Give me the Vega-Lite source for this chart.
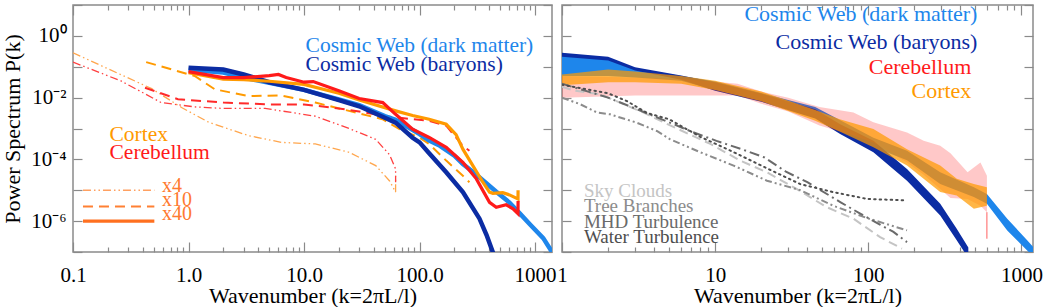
{
"$schema": "https://vega.github.io/schema/vega-lite/v6.json",
"padding": {"left": 0, "top": 2, "right": 0, "bottom": 0},
"spacing": 10,
"bounds": "flush",
"config": {
 "font": "Liberation Serif",
 "view": {"stroke": "#8a8a8a", "strokeWidth": 1.5},
 "axis": {"labelFont": "Liberation Serif", "titleFont": "Liberation Serif", "labelFontSize": 21, "titleFontSize": 22, "titleFontWeight": "normal", "labelColor": "#000", "titleColor": "#000", "grid": false, "domain": false, "tickColor": "#8a8a8a", "tickWidth": 1.2, "labelOverlap": false, "labelFlush": false, "labelBound": false, "minExtent": 0},
 "axisX": {"minExtent": 0},
 "axisY": {"minExtent": 0},
 "text": {"font": "Liberation Serif"}
},
"datasets": {
 "L": [
  {"s":"dm","k":1,"P":0.0794},{"s":"dm","k":2,"P":0.0646},{"s":"dm","k":3,"P":0.0447},{"s":"dm","k":5,"P":0.0302},{"s":"dm","k":10,"P":0.0178},{"s":"dm","k":20,"P":0.00871},{"s":"dm","k":30,"P":0.00575},{"s":"dm","k":50,"P":0.00251},{"s":"dm","k":62,"P":0.00191},{"s":"dm","k":100,"P":0.000661},{"s":"dm","k":121,"P":0.000407},{"s":"dm","k":150,"P":0.000275},{"s":"dm","k":200,"P":0.000132},{"s":"dm","k":237,"P":0.0000708},{"s":"dm","k":300,"P":0.0000355},{"s":"dm","k":461,"P":0.00000891},{"s":"dm","k":600,"P":0.00000398},{"s":"dm","k":736,"P":0.00000178},{"s":"dm","k":900,"P":0.000000794},{"s":"dm","k":1175,"P":0.000000282},{"s":"dm","k":1400,"P":0.0000001},
  {"s":"bar","k":1,"P":0.0933},{"s":"bar","k":2,"P":0.0813},{"s":"bar","k":3,"P":0.0562},{"s":"bar","k":5,"P":0.0316},{"s":"bar","k":10,"P":0.0178},{"s":"bar","k":20,"P":0.00832},{"s":"bar","k":30,"P":0.00525},{"s":"bar","k":50,"P":0.00224},{"s":"bar","k":62,"P":0.00155},{"s":"bar","k":87,"P":0.000501},{"s":"bar","k":100,"P":0.000355},{"s":"bar","k":121,"P":0.000158},{"s":"bar","k":170,"P":0.000038},{"s":"bar","k":237,"P":0.0000087},{"s":"bar","k":330,"P":0.0000012},{"s":"bar","k":380,"P":0.000000355},{"s":"bar","k":430,"P":0.0000001},{"s":"bar","k":460,"P":0.00000005},
  {"s":"cx","k":1,"P":0.0646},{"s":"cx","k":2,"P":0.0398},{"s":"cx","k":3,"P":0.038},{"s":"cx","k":5,"P":0.0339},{"s":"cx","k":10,"P":0.0269},{"s":"cx","k":20,"P":0.0138},{"s":"cx","k":30,"P":0.00832},{"s":"cx","k":62,"P":0.00372},{"s":"cx","k":87,"P":0.00263},{"s":"cx","k":121,"P":0.002},{"s":"cx","k":170,"P":0.00138},{"s":"cx","k":207,"P":0.000631},{"s":"cx","k":237,"P":0.000214},{"s":"cx","k":289,"P":0.0000631},{"s":"cx","k":353,"P":0.0000182},{"s":"cx","k":403,"P":0.0000087},{"s":"cx","k":431,"P":0.00000794},{"s":"cx","k":525,"P":0.00000832},{"s":"cx","k":600,"P":0.00000708},{"s":"cx","k":711,"P":0.00000525},{"s":"cx","k":712,"P":0.00001},
  {"s":"cb","k":1,"P":0.0692},{"s":"cb","k":2,"P":0.0447},{"s":"cb","k":3,"P":0.0447},{"s":"cb","k":5,"P":0.0513},{"s":"cb","k":6,"P":0.0562},{"s":"cb","k":7,"P":0.0447},{"s":"cb","k":10,"P":0.0316},{"s":"cb","k":12,"P":0.0331},{"s":"cb","k":20,"P":0.0166},{"s":"cb","k":30,"P":0.00933},{"s":"cb","k":48,"P":0.00692},{"s":"cb","k":62,"P":0.00288},{"s":"cb","k":87,"P":0.000955},{"s":"cb","k":121,"P":0.000513},{"s":"cb","k":170,"P":0.000245},{"s":"cb","k":237,"P":0.0000794},{"s":"cb","k":310,"P":0.0000234},{"s":"cb","k":403,"P":0.00000407},{"s":"cb","k":461,"P":0.00000282},{"s":"cb","k":562,"P":0.00000339},{"s":"cb","k":644,"P":0.00000251},{"s":"cb","k":711,"P":0.00000174},{"s":"cb","k":712,"P":0.00000447},
  {"s":"cx10","k":0.43,"P":0.141},{"s":"cx10","k":1.13,"P":0.0501},{"s":"cx10","k":1.69,"P":0.0186},{"s":"cx10","k":3.3,"P":0.0112},{"s":"cx10","k":6.4,"P":0.0117},{"s":"cx10","k":12.5,"P":0.00692},{"s":"cx10","k":24.5,"P":0.00372},{"s":"cx10","k":47.7,"P":0.002},{"s":"cx10","k":67,"P":0.000955},{"s":"cx10","k":100,"P":0.000501},{"s":"cx10","k":121,"P":0.000316},{"s":"cx10","k":170,"P":0.0000912},{"s":"cx10","k":237,"P":0.0000295},{"s":"cx10","k":270,"P":0.0000182},
  {"s":"cb10","k":0.42,"P":0.0209},{"s":"cb10","k":0.81,"P":0.00891},{"s":"cb10","k":2,"P":0.00692},{"s":"cb10","k":5,"P":0.00603},{"s":"cb10","k":10,"P":0.00603},{"s":"cb10","k":20,"P":0.00447},{"s":"cb10","k":30,"P":0.00355},{"s":"cb10","k":50,"P":0.00251},{"s":"cb10","k":87,"P":0.002},{"s":"cb10","k":121,"P":0.00178},{"s":"cb10","k":170,"P":0.00123},{"s":"cb10","k":237,"P":0.000275},{"s":"cb10","k":270,"P":0.00019},
  {"s":"cx4","k":0.1,"P":0.282},{"s":"cx4","k":0.48,"P":0.0195},{"s":"cx4","k":0.87,"P":0.00479},{"s":"cx4","k":1.5,"P":0.00158},{"s":"cx4","k":3.3,"P":0.000589},{"s":"cx4","k":6.4,"P":0.000355},{"s":"cx4","k":12.5,"P":0.000316},{"s":"cx4","k":24.5,"P":0.00017},{"s":"cx4","k":41.7,"P":0.000063},{"s":"cx4","k":55,"P":0.00002},{"s":"cx4","k":62,"P":0.0000087},{"s":"cx4","k":62.01,"P":0.0000295},
  {"s":"cb4","k":0.1,"P":0.141},{"s":"cb4","k":0.26,"P":0.0347},{"s":"cb4","k":0.58,"P":0.00692},{"s":"cb4","k":1.13,"P":0.00501},{"s":"cb4","k":2,"P":0.00447},{"s":"cb4","k":4.6,"P":0.00447},{"s":"cb4","k":12.5,"P":0.00251},{"s":"cb4","k":24.5,"P":0.001},{"s":"cb4","k":41.7,"P":0.000447},{"s":"cb4","k":55,"P":0.000141},{"s":"cb4","k":62,"P":0.000049},{"s":"cb4","k":62.01,"P":0.0000182},
  {"s":"leg4","k":0.122,"P":0.00001},{"s":"leg4","k":0.506,"P":0.00001},
  {"s":"leg10","k":0.122,"P":0.000003},{"s":"leg10","k":0.506,"P":0.000003},
  {"s":"leg40","k":0.122,"P":0.000001},{"s":"leg40","k":0.506,"P":0.000001}
 ],
 "LT": [
  {"t":"Cosmic Web (dark matter)","k":10.3,"P":0.298,"c":"dm"},
  {"t":"Cosmic Web (baryons)","k":10.3,"P":0.0724,"c":"bar"},
  {"t":"Cortex","k":0.207,"P":0.0004,"c":"cx"},
  {"t":"Cerebellum","k":0.207,"P":0.000102,"c":"cb"}
 ],
 "LL": [
  {"t":"x4","k":0.59,"P":0.0000086,"c":"leg"},
  {"t":"x10","k":0.59,"P":0.0000032,"c":"leg"},
  {"t":"x40","k":0.59,"P":0.00000105,"c":"leg"}
 ],
 "B": [
  {"s":"dm","k":1,"lo":0.0501,"hi":0.251},{"s":"dm","k":2,"lo":0.0501,"hi":0.191},{"s":"dm","k":3,"lo":0.0447,"hi":0.0891},{"s":"dm","k":6,"lo":0.0355,"hi":0.0501},{"s":"dm","k":10,"lo":0.0178,"hi":0.0331},{"s":"dm","k":20,"lo":0.00794,"hi":0.0141},{"s":"dm","k":45,"lo":0.00251,"hi":0.00501},{"s":"dm","k":108,"lo":0.000251,"hi":0.000501},{"s":"dm","k":179,"lo":0.0000933,"hi":0.000191},{"s":"dm","k":295,"lo":0.0000158,"hi":0.000038},{"s":"dm","k":489,"lo":0.00000603,"hi":0.0000126},{"s":"dm","k":595,"lo":0.00000363,"hi":0.00000759},{"s":"dm","k":808,"lo":0.000000501,"hi":0.0000012},{"s":"dm","k":1090,"lo":0.000000112,"hi":0.00000024},{"s":"dm","k":1200,"lo":0.0000000708,"hi":0.000000141},
  {"s":"bar","k":1,"lo":0.209,"hi":0.282},{"s":"bar","k":2,"lo":0.158,"hi":0.209},{"s":"bar","k":3,"lo":0.0759,"hi":0.0955},{"s":"bar","k":6,"lo":0.038,"hi":0.0525},{"s":"bar","k":10,"lo":0.0166,"hi":0.0316},{"s":"bar","k":20,"lo":0.00741,"hi":0.0135},{"s":"bar","k":45,"lo":0.00209,"hi":0.00417},{"s":"bar","k":65.5,"lo":0.000661,"hi":0.00138},{"s":"bar","k":108,"lo":0.00017,"hi":0.000398},{"s":"bar","k":179,"lo":0.0000204,"hi":0.000049},{"s":"bar","k":295,"lo":0.00000151,"hi":0.00000363},{"s":"bar","k":378,"lo":0.00000024,"hi":0.000000562},{"s":"bar","k":450,"lo":0.0000000631,"hi":0.000000141},
  {"s":"cb","k":1,"lo":0.01,"hi":0.0501},{"s":"cb","k":3,"lo":0.0117,"hi":0.0447},{"s":"cb","k":6,"lo":0.0117,"hi":0.0407},{"s":"cb","k":14,"lo":0.0117,"hi":0.0282},{"s":"cb","k":20,"lo":0.00631,"hi":0.0158},{"s":"cb","k":30,"lo":0.00355,"hi":0.01},{"s":"cb","k":48,"lo":0.00126,"hi":0.00501},{"s":"cb","k":80,"lo":0.000589,"hi":0.00331},{"s":"cb","k":108,"lo":0.000355,"hi":0.00158},{"s":"cb","k":179,"lo":0.0000794,"hi":0.000741},{"s":"cb","k":230,"lo":0.0000316,"hi":0.000398},{"s":"cb","k":295,"lo":0.000011,"hi":0.000275},{"s":"cb","k":344,"lo":0.00000562,"hi":0.000158},{"s":"cb","k":445,"lo":0.00000525,"hi":0.000038},{"s":"cb","k":540,"lo":0.00000316,"hi":0.0000794},{"s":"cb","k":595,"lo":0.00000195,"hi":0.0000295},
  {"s":"cx","k":1,"lo":0.0251,"hi":0.0562},{"s":"cx","k":2,"lo":0.0316,"hi":0.0813},{"s":"cx","k":3,"lo":0.0316,"hi":0.0708},{"s":"cx","k":6,"lo":0.0282,"hi":0.0501},{"s":"cx","k":10,"lo":0.0178,"hi":0.0355},{"s":"cx","k":20,"lo":0.00759,"hi":0.0158},{"s":"cx","k":45,"lo":0.00178,"hi":0.00398},{"s":"cx","k":65,"lo":0.000794,"hi":0.002},{"s":"cx","k":108,"lo":0.000245,"hi":0.000955},{"s":"cx","k":179,"lo":0.0000631,"hi":0.000214},{"s":"cx","k":295,"lo":0.0000087,"hi":0.0000631},{"s":"cx","k":378,"lo":0.00000676,"hi":0.0000234},{"s":"cx","k":489,"lo":0.00000251,"hi":0.0000158},{"s":"cx","k":595,"lo":0.00000316,"hi":0.0000126}
 ],
 "RR": [{"k":595,"lo":0.000000269,"hi":0.00000195}],
 "G": [
  {"s":"water","k":1,"P":0.0263},{"s":"water","k":2,"P":0.0138},{"s":"water","k":2.65,"P":0.00776},{"s":"water","k":3.6,"P":0.00316},{"s":"water","k":5,"P":0.002},{"s":"water","k":8,"P":0.000537},{"s":"water","k":13,"P":0.000178},{"s":"water","k":22,"P":0.0000501},{"s":"water","k":36,"P":0.0000158},{"s":"water","k":59,"P":0.0000087},{"s":"water","k":98,"P":0.00000525},{"s":"water","k":179,"P":0.00000468},
  {"s":"mhd","k":1,"P":0.0282},{"s":"mhd","k":2,"P":0.01},{"s":"mhd","k":4,"P":0.00251},{"s":"mhd","k":7,"P":0.000794},{"s":"mhd","k":10.2,"P":0.000398},{"s":"mhd","k":14.9,"P":0.000214},{"s":"mhd","k":21,"P":0.000115},{"s":"mhd","k":29,"P":0.0000398},{"s":"mhd","k":40,"P":0.0000182},{"s":"mhd","k":66,"P":0.00000407},{"s":"mhd","k":88,"P":0.00000178},{"s":"mhd","k":120,"P":0.000000759},{"s":"mhd","k":146,"P":0.000000447},{"s":"mhd","k":179,"P":0.000000209},
  {"s":"tree","k":1,"P":0.01},{"s":"tree","k":1.31,"P":0.00617},{"s":"tree","k":1.69,"P":0.00331},{"s":"tree","k":2.06,"P":0.00288},{"s":"tree","k":3.07,"P":0.00155},{"s":"tree","k":4.16,"P":0.000832},{"s":"tree","k":5.08,"P":0.000447},{"s":"tree","k":8,"P":0.00017},{"s":"tree","k":13.2,"P":0.0000631},{"s":"tree","k":21.8,"P":0.0000204},{"s":"tree","k":36,"P":0.00001},{"s":"tree","k":59,"P":0.00000316},{"s":"tree","k":98,"P":0.00000126},{"s":"tree","k":179,"P":0.000000501},
  {"s":"sky","k":1,"P":0.0224},{"s":"sky","k":1.22,"P":0.0166},{"s":"sky","k":1.77,"P":0.0129},{"s":"sky","k":3.39,"P":0.00331},{"s":"sky","k":5.08,"P":0.00126},{"s":"sky","k":9.3,"P":0.000316},{"s":"sky","k":14.6,"P":0.0000912},{"s":"sky","k":21.8,"P":0.000038},{"s":"sky","k":34,"P":0.000011},{"s":"sky","k":53.6,"P":0.00000282},{"s":"sky","k":80,"P":0.0000012},{"s":"sky","k":119.5,"P":0.000000302},{"s":"sky","k":166,"P":0.000000129}
 ],
 "RTR": [
  {"t":"Cosmic Web (dark matter)","k":516,"P":3.05,"c":"dm"},
  {"t":"Cosmic Web (baryons)","k":516,"P":0.381,"c":"bar"},
  {"t":"Cerebellum","k":471,"P":0.0594,"c":"cb"},
  {"t":"Cortex","k":471,"P":0.01,"c":"cx"}
 ],
 "RTL": [
  {"t":"Sky Clouds","k":1.39,"P":0.00000594,"c":"sky"},
  {"t":"Tree Branches","k":1.39,"P":0.00000195,"c":"tree"},
  {"t":"MHD Turbulence","k":1.39,"P":0.000000594,"c":"mhd"},
  {"t":"Water Turbulence","k":1.39,"P":0.000000195,"c":"water"}
 ]
},
"hconcat": [
 {
  "width": 479, "height": 247,
  "resolve": {"axis": {"x": "independent", "y": "independent"}},
  "layer": [
   {"data": {"name": "L"}, "transform": [{"filter": "indexof(['cx4','cb4','leg4'], datum.s) >= 0"}],
    "mark": {"type": "line", "strokeWidth": 1.3, "strokeDash": [8,3,1.5,3,1.5,3], "clip": true},
    "encoding": {
     "x": {"field": "k", "type": "quantitative", "scale": {"type": "log", "domain": [0.1, 1400], "nice": false},
      "axis": {"orient": "bottom", "values": [0.1,1,10,100,1000], "ticks": false,
       "labelExpr": "datum.value == 0.1 ? '0.1' : datum.value == 1 ? '1.0' : datum.value == 10 ? '10.0' : datum.value == 100 ? '100.0' : '1000'",
       "title": "Wavenumber (k=2πL/l)", "labelPadding": 12, "titlePadding": 0}},
     "y": {"field": "P", "type": "quantitative", "scale": {"type": "log", "domain": [0.0000001, 10], "nice": false},
      "axis": {"orient": "left", "values": [1,0.01,0.0001,0.000001], "ticks": false,
       "labelExpr": "datum.value == 1 ? '10⁰' : datum.value == 0.01 ? '10⁻²' : datum.value == 0.0001 ? '10⁻⁴' : '10⁻⁶'",
       "title": "Power Spectrum P(k)", "labelPadding": 7, "titlePadding": 6}},
     "color": {"field": "s", "type": "nominal", "legend": null, "scale": {"domain": ["dm","bar","cx","cb","cx10","cb10","cx4","cb4","leg4","leg10","leg40","leg","sky","tree","mhd","water"], "range": ["#1E86EB","#0B2CA3","#FF9A00","#FF1A1A","#FF9A00","#FF2A2A","#FFA64D","#FF4040","#FFA060","#FF8033","#FF7020","#FF7A30","#C4C4C4","#8C8C8C","#6A6A6A","#4E4E4E"]}}
    }},
   {"data": {"name": "L"}, "transform": [{"filter": "indexof(['cx10','cb10','leg10'], datum.s) >= 0"}],
    "mark": {"type": "line", "strokeWidth": 2, "strokeDash": [10,6], "clip": true},
    "encoding": {
     "x": {"field": "k", "type": "quantitative",
      "axis": {"orient": "bottom", "values": [0.1,1,10,100,1000], "labels": false, "title": null, "tickSize": -10}},
     "y": {"field": "P", "type": "quantitative",
      "axis": {"orient": "left", "values": [0.0000001,0.000001,0.00001,0.0001,0.001,0.01,0.1,1,10], "labels": false, "title": null, "tickSize": -9}},
     "color": {"field": "s", "type": "nominal", "legend": null}
    }},
   {"data": {"name": "L"}, "transform": [{"filter": "datum.s == 'dm'"}],
    "mark": {"type": "line", "strokeWidth": 4.5, "clip": true},
    "encoding": {
     "x": {"field": "k", "type": "quantitative",
      "axis": {"orient": "bottom", "values": [0.2,0.3,0.4,0.5,0.6,0.7,0.8,0.9,2,3,4,5,6,7,8,9,20,30,40,50,60,70,80,90,200,300,400,500,600,700,800,900], "labels": false, "title": null, "tickSize": -5}},
     "y": {"field": "P", "type": "quantitative",
      "axis": {"orient": "right", "values": [0.0000001,0.000001,0.00001,0.0001,0.001,0.01,0.1,1,10], "labels": false, "title": null, "tickSize": -9}},
     "color": {"field": "s", "type": "nominal", "legend": null}
    }},
   {"data": {"name": "L"}, "transform": [{"filter": "datum.s == 'bar'"}],
    "mark": {"type": "line", "strokeWidth": 4.5, "clip": true},
    "encoding": {
     "x": {"field": "k", "type": "quantitative",
      "axis": {"orient": "top", "values": [0.1,1,10,100,1000], "labels": false, "title": null, "tickSize": -10}},
     "y": {"field": "P", "type": "quantitative", "axis": null},
     "color": {"field": "s", "type": "nominal", "legend": null}
    }},
   {"data": {"name": "L"}, "transform": [{"filter": "datum.s == 'cx'"}],
    "mark": {"type": "line", "strokeWidth": 3.2, "clip": true},
    "encoding": {
     "x": {"field": "k", "type": "quantitative",
      "axis": {"orient": "top", "values": [0.2,0.3,0.4,0.5,0.6,0.7,0.8,0.9,2,3,4,5,6,7,8,9,20,30,40,50,60,70,80,90,200,300,400,500,600,700,800,900], "labels": false, "title": null, "tickSize": -5}},
     "y": {"field": "P", "type": "quantitative", "axis": null},
     "color": {"field": "s", "type": "nominal", "legend": null}
    }},
   {"data": {"name": "L"}, "transform": [{"filter": "datum.s == 'cb' || datum.s == 'leg40'"}],
    "mark": {"type": "line", "strokeWidth": 3.2, "clip": true},
    "encoding": {
     "x": {"field": "k", "type": "quantitative", "axis": null},
     "y": {"field": "P", "type": "quantitative", "axis": null},
     "color": {"field": "s", "type": "nominal", "legend": null}
    }},
   {"data": {"name": "LT"},
    "mark": {"type": "text", "align": "left", "baseline": "alphabetic", "fontSize": 21.5, "font": "Liberation Serif"},
    "encoding": {
     "x": {"field": "k", "type": "quantitative", "axis": null},
     "y": {"field": "P", "type": "quantitative", "axis": null},
     "text": {"field": "t"},
     "color": {"field": "c", "type": "nominal", "legend": null}
    }},
   {"data": {"name": "LL"},
    "mark": {"type": "text", "align": "left", "baseline": "alphabetic", "fontSize": 20, "font": "Liberation Serif"},
    "encoding": {
     "x": {"field": "k", "type": "quantitative", "axis": null},
     "y": {"field": "P", "type": "quantitative", "axis": null},
     "text": {"field": "t"},
     "color": {"field": "c", "type": "nominal", "legend": null}
    }}
  ]
 },
 {
  "width": 471, "height": 247,
  "resolve": {"axis": {"x": "independent", "y": "independent"}},
  "layer": [
   {"data": {"name": "B"}, "transform": [{"filter": "datum.s == 'dm'"}],
    "mark": {"type": "area", "clip": true},
    "encoding": {
     "x": {"field": "k", "type": "quantitative", "scale": {"type": "log", "domain": [1, 1190], "nice": false},
      "axis": {"orient": "bottom", "values": [1,10,100,1000], "ticks": false, "labelExpr": "datum.value == 1 ? '1' : datum.value == 10 ? '10' : datum.value == 100 ? '100' : '1000'",
       "title": "Wavenumber (k=2πL/l)", "labelPadding": 12, "titlePadding": 0}},
     "y": {"field": "hi", "type": "quantitative", "scale": {"type": "log", "domain": [0.0000001, 10], "nice": false},
      "axis": {"orient": "left", "values": [0.0000001,0.000001,0.00001,0.0001,0.001,0.01,0.1,1,10], "labels": false, "title": null, "tickSize": -9}},
     "y2": {"field": "lo"},
     "color": {"field": "s", "type": "nominal", "legend": null, "scale": {"domain": ["dm","bar","cx","cb","cx10","cb10","cx4","cb4","leg4","leg10","leg40","leg","sky","tree","mhd","water"], "range": ["#1E86EB","#0B2CA3","#FF9A00","#FF1A1A","#FF9A00","#FF2A2A","#FFA64D","#FF4040","#FFA060","#FF8033","#FF7020","#FF7A30","#C4C4C4","#8C8C8C","#6A6A6A","#4E4E4E"]}}
    }},
   {"data": {"name": "B"}, "transform": [{"filter": "datum.s == 'bar'"}],
    "mark": {"type": "area", "clip": true},
    "encoding": {
     "x": {"field": "k", "type": "quantitative",
      "axis": {"orient": "bottom", "values": [1,10,100,1000], "labels": false, "title": null, "tickSize": -10}},
     "y": {"field": "hi", "type": "quantitative",
      "axis": {"orient": "right", "values": [0.0000001,0.000001,0.00001,0.0001,0.001,0.01,0.1,1,10], "labels": false, "title": null, "tickSize": -9}},
     "y2": {"field": "lo"},
     "color": {"field": "s", "type": "nominal", "legend": null}
    }},
   {"data": {"name": "B"}, "transform": [{"filter": "datum.s == 'cb'"}],
    "mark": {"type": "area", "clip": true, "fillOpacity": 0.24},
    "encoding": {
     "x": {"field": "k", "type": "quantitative",
      "axis": {"orient": "bottom", "values": [2,3,4,5,6,7,8,9,20,30,40,50,60,70,80,90,200,300,400,500,600,700,800,900], "labels": false, "title": null, "tickSize": -5}},
     "y": {"field": "hi", "type": "quantitative", "axis": null},
     "y2": {"field": "lo"},
     "color": {"field": "s", "type": "nominal", "legend": null}
    }},
   {"data": {"name": "B"}, "transform": [{"filter": "datum.s == 'cx'"}],
    "mark": {"type": "area", "clip": true, "fillOpacity": 0.72},
    "encoding": {
     "x": {"field": "k", "type": "quantitative",
      "axis": {"orient": "top", "values": [1,10,100,1000], "labels": false, "title": null, "tickSize": -10}},
     "y": {"field": "hi", "type": "quantitative", "axis": null},
     "y2": {"field": "lo"},
     "color": {"field": "s", "type": "nominal", "legend": null}
    }},
   {"data": {"name": "RR"},
    "mark": {"type": "rule", "color": "#FF6060", "strokeWidth": 1, "clip": true},
    "encoding": {
     "x": {"field": "k", "type": "quantitative",
      "axis": {"orient": "top", "values": [2,3,4,5,6,7,8,9,20,30,40,50,60,70,80,90,200,300,400,500,600,700,800,900], "labels": false, "title": null, "tickSize": -5}},
     "y": {"field": "hi", "type": "quantitative", "axis": null},
     "y2": {"field": "lo"}
    }},
   {"data": {"name": "G"}, "transform": [{"filter": "datum.s == 'sky'"}],
    "mark": {"type": "line", "strokeWidth": 2, "strokeDash": [9,5], "clip": true},
    "encoding": {
     "x": {"field": "k", "type": "quantitative", "axis": null},
     "y": {"field": "P", "type": "quantitative", "axis": null},
     "color": {"field": "s", "type": "nominal", "legend": null}
    }},
   {"data": {"name": "G"}, "transform": [{"filter": "datum.s == 'tree'"}],
    "mark": {"type": "line", "strokeWidth": 2, "strokeDash": [7,3,2,3,2,3], "clip": true},
    "encoding": {
     "x": {"field": "k", "type": "quantitative", "axis": null},
     "y": {"field": "P", "type": "quantitative", "axis": null},
     "color": {"field": "s", "type": "nominal", "legend": null}
    }},
   {"data": {"name": "G"}, "transform": [{"filter": "datum.s == 'mhd'"}],
    "mark": {"type": "line", "strokeWidth": 2, "strokeDash": [10,4,2,4], "clip": true},
    "encoding": {
     "x": {"field": "k", "type": "quantitative", "axis": null},
     "y": {"field": "P", "type": "quantitative", "axis": null},
     "color": {"field": "s", "type": "nominal", "legend": null}
    }},
   {"data": {"name": "G"}, "transform": [{"filter": "datum.s == 'water'"}],
    "mark": {"type": "line", "strokeWidth": 2, "strokeDash": [1.5,4], "strokeCap": "round", "clip": true},
    "encoding": {
     "x": {"field": "k", "type": "quantitative", "axis": null},
     "y": {"field": "P", "type": "quantitative", "axis": null},
     "color": {"field": "s", "type": "nominal", "legend": null}
    }},
   {"data": {"name": "RTR"},
    "mark": {"type": "text", "align": "right", "baseline": "alphabetic", "fontSize": 22, "font": "Liberation Serif"},
    "encoding": {
     "x": {"field": "k", "type": "quantitative", "axis": null},
     "y": {"field": "P", "type": "quantitative", "axis": null},
     "text": {"field": "t"},
     "color": {"field": "c", "type": "nominal", "legend": null}
    }},
   {"data": {"name": "RTL"},
    "mark": {"type": "text", "align": "left", "baseline": "alphabetic", "fontSize": 19, "font": "Liberation Serif"},
    "encoding": {
     "x": {"field": "k", "type": "quantitative", "axis": null},
     "y": {"field": "P", "type": "quantitative", "axis": null},
     "text": {"field": "t"},
     "color": {"field": "c", "type": "nominal", "legend": null}
    }}
  ]
 }
]
}
